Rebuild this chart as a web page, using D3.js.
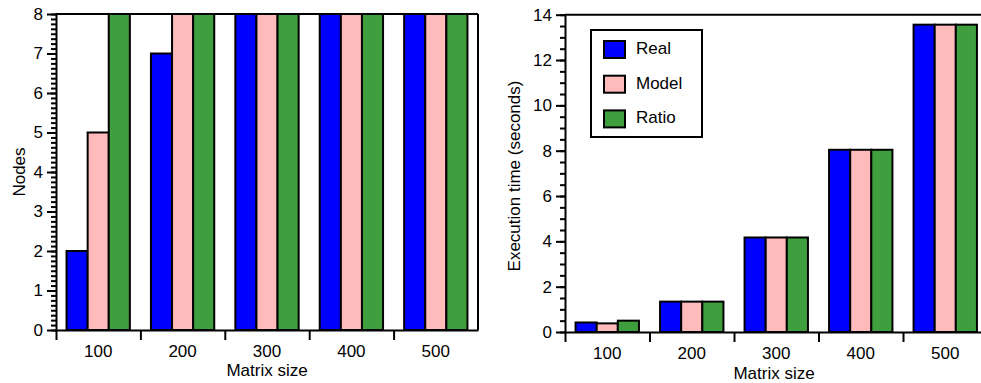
<!DOCTYPE html>
<html>
<head>
<meta charset="utf-8">
<script src="https://cdn.jsdelivr.net/npm/d3@7"></script>
<style>
  body { margin: 0; background: #fff; }
  text { font-family: "Liberation Sans", Arial, sans-serif; fill: #000; }
</style>
</head>
<body>
<div id="chart"></div>
<script>
// data
var categories = ["100", "200", "300", "400", "500"];
var seriesNames = ["Real", "Model", "Ratio"];
var seriesColors = ["#0000ff", "#ffbbbb", "#3f9f3f"];

// left panel: nodes (bars above 8 are cut at the frame)
var nodesReal = [2, 7, 8, 8, 8];
var nodesModel = [5, 8, 8, 8, 8];
var nodesRatio = [8, 8, 8, 8, 8];
var nodesTicks = [0, 1, 2, 3, 4, 5, 6, 7, 8];

// right panel: execution time
var timeReal = [0.42, 1.34, 4.17, 8.04, 13.56];
var timeModel = [0.38, 1.34, 4.17, 8.04, 13.56];
var timeRatio = [0.5, 1.34, 4.17, 8.04, 13.56];
var timeTicks = [0, 2, 4, 6, 8, 10, 12, 14];

var svgWidth = 981;
var svgHeight = 383;

var svg = d3.select("#chart")
  .append("svg")
  .attr("width", svgWidth)
  .attr("height", svgHeight);

function drawPanel(p) {
  var g = svg.append("g");

  // outer band = matrix size, inner band = series
  var x0 = d3.scaleBand()
    .domain(categories)
    .range([p.left, p.right])
    .paddingInner(0.25)
    .paddingOuter(0.125);

  var x1 = d3.scaleBand()
    .domain(seriesNames)
    .range([0, x0.bandwidth()]);

  var y = d3.scaleLinear()
    .domain([0, p.yMax])
    .range([p.bottom, p.top]);

  var rows = categories.map(function(c, i) {
    return {cat: c, values: p.series.map(function(s, j) {
      return {name: seriesNames[j], value: s[i], color: seriesColors[j]};
    })};
  });

  // bars
  var groups = g.selectAll(".grp")
    .data(rows)
    .enter()
    .append("g")
    .attr("transform", d => `translate(${x0(d.cat)},0)`);

  groups.selectAll("rect")
    .data(d => d.values)
    .enter()
    .append("rect")
    .attr("x", d => x1(d.name))
    .attr("y", d => y(d.value))
    .attr("width", x1.bandwidth())
    .attr("height", d => p.bottom - y(d.value))
    .attr("fill", d => d.color)
    .attr("stroke", "#000")
    .attr("stroke-width", 2);

  // frame top (and right on the left panel)
  g.append("line")
    .attr("x1", p.left).attr("x2", p.frameEnd)
    .attr("y1", p.top).attr("y2", p.top)
    .attr("stroke", "#000").attr("stroke-width", 2);
  if (p.rightFrame) {
    g.append("line")
      .attr("x1", p.right).attr("x2", p.right)
      .attr("y1", p.top).attr("y2", p.bottom)
      .attr("stroke", "#000").attr("stroke-width", 2);
  }

  // y axis: minor then major ticks
  var minorTicks = d3.range(0, p.yMax + 1e-9, p.minorStep);
  var minorAxis = g.append("g")
    .attr("transform", `translate(${p.left},0)`)
    .call(d3.axisLeft(y).tickValues(minorTicks).tickSize(5).tickFormat(""));
  minorAxis.select(".domain").remove();

  var yAxis = g.append("g")
    .attr("transform", `translate(${p.left},0)`)
    .call(d3.axisLeft(y).tickValues(p.yTicks).tickSize(9).tickSizeOuter(0).tickPadding(4));

  g.selectAll(".tick line").attr("stroke-width", 2);
  yAxis.select(".domain").attr("stroke-width", 2);
  yAxis.selectAll("text").style("font-size", "17px");

  // x axis: line + ticks at band boundaries
  var xEdge = d3.scaleLinear()
    .domain([0, categories.length])
    .range([p.left, p.left + x0.step() * categories.length]);

  var edgeAxis = g.append("g")
    .attr("transform", `translate(0,${p.bottom})`)
    .call(d3.axisBottom(xEdge).tickValues(d3.range(0, categories.length)).tickSize(10).tickSizeOuter(0).tickFormat(""));
  edgeAxis.select(".domain").attr("stroke-width", 2);
  edgeAxis.selectAll(".tick line").attr("stroke-width", 2);

  var labelAxis = g.append("g")
    .attr("transform", `translate(0,${p.bottom})`)
    .call(d3.axisBottom(x0).tickSize(0).tickPadding(15));
  labelAxis.select(".domain").remove();
  labelAxis.selectAll("text").style("font-size", "17px");

  // axis titles
  g.append("text")
    .attr("x", p.xTitleX)
    .attr("y", p.xTitleY)
    .attr("text-anchor", "middle")
    .style("font-size", "17px")
    .text("Matrix size");

  g.append("text")
    .attr("transform", `translate(${p.yTitleX},${p.yTitleY}) rotate(-90)`)
    .attr("text-anchor", "middle")
    .style("font-size", "17px")
    .text(p.yTitle);

  return g;
}

drawPanel({
  left: 56, right: 478, top: 14, bottom: 330, frameEnd: 478,
  rightFrame: true,
  yMax: 8, yTicks: nodesTicks, minorStep: 0.125,
  series: [nodesReal, nodesModel, nodesRatio],
  xTitleX: 267, xTitleY: 376,
  yTitleX: 25, yTitleY: 172, yTitle: "Nodes"
});

var right = drawPanel({
  left: 565, right: 987.5, top: 14.7, bottom: 332, frameEnd: 981,
  rightFrame: false,
  yMax: 14, yTicks: timeTicks, minorStep: 0.5,
  series: [timeReal, timeModel, timeRatio],
  xTitleX: 774, xTitleY: 379,
  yTitleX: 520, yTitleY: 176, yTitle: "Execution time (seconds)"
});

// legend
var legend = right.append("g").attr("transform", "translate(591,30)");
legend.append("rect")
  .attr("width", 111).attr("height", 107)
  .attr("fill", "#fff").attr("stroke", "#000").attr("stroke-width", 2);

var items = legend.selectAll(".item")
  .data(seriesNames)
  .enter()
  .append("g")
  .attr("transform", (d, i) => `translate(13,${11 + i * 34.7})`);

items.append("rect")
  .attr("width", 21).attr("height", 17)
  .attr("fill", (d, i) => seriesColors[i])
  .attr("stroke", "#000").attr("stroke-width", 2);

items.append("text")
  .attr("x", 32)
  .attr("y", 13)
  .style("font-size", "17px")
  .text(d => d);
</script>
</body>
</html>
